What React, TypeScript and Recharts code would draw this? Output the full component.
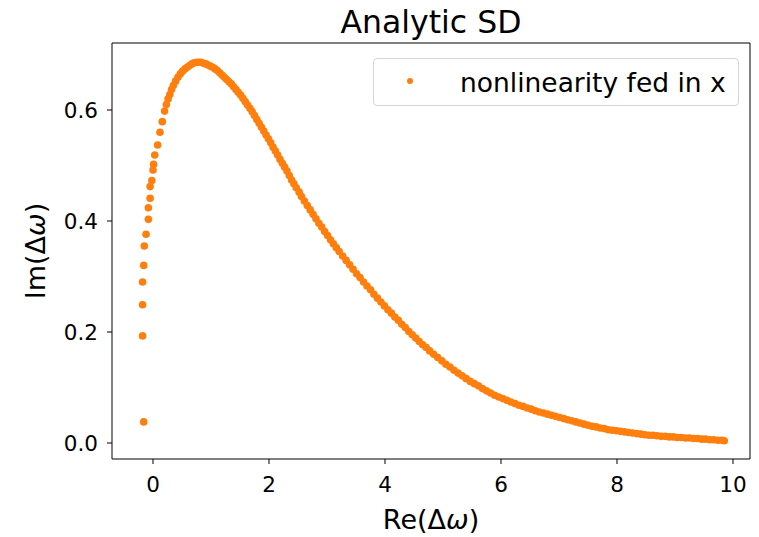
import { Legend, ReferenceLine, Scatter, ScatterChart, XAxis, YAxis } from "recharts";

// Re(Δω) and Im(Δω), point by point
const reDw = [
  -0.16, -0.18, -0.18, -0.18, -0.16, -0.15, -0.12, -0.08, -0.08, -0.05, -0.05, -0.02, 0.0, 0.01, 0.03, 0.08,
  0.12, 0.16, 0.2, 0.23, 0.26, 0.29, 0.32, 0.35, 0.39, 0.43, 0.47, 0.51, 0.55, 0.59, 0.63, 0.67, 0.71, 0.75,
  0.79, 0.83, 0.87, 0.91, 0.95, 0.99, 1.03, 1.07, 1.11, 1.15, 1.19, 1.23, 1.27, 1.31, 1.35, 1.39, 1.43, 1.47,
  1.51, 1.55, 1.59, 1.63, 1.67, 1.71, 1.75, 1.79, 1.83, 1.87, 1.91, 1.95, 1.99, 2.03, 2.07, 2.11, 2.15, 2.19,
  2.23, 2.27, 2.31, 2.35, 2.39, 2.43, 2.47, 2.52, 2.56, 2.61, 2.66, 2.71, 2.76, 2.81, 2.86, 2.91, 2.96, 3.01,
  3.06, 3.11, 3.16, 3.21, 3.27, 3.33, 3.39, 3.45, 3.51, 3.57, 3.63, 3.69, 3.75, 3.81, 3.87, 3.93, 3.99, 4.05,
  4.11, 4.17, 4.23, 4.29, 4.35, 4.41, 4.47, 4.53, 4.59, 4.65, 4.71, 4.77, 4.84, 4.91, 4.98, 5.05, 5.12, 5.19,
  5.26, 5.33, 5.4, 5.47, 5.54, 5.61, 5.68, 5.75, 5.82, 5.89, 5.96, 6.03, 6.1, 6.17, 6.24, 6.31, 6.38, 6.45,
  6.52, 6.59, 6.66, 6.73, 6.8, 6.87, 6.94, 7.01, 7.08, 7.15, 7.22, 7.29, 7.36, 7.43, 7.5, 7.57, 7.64, 7.71,
  7.78, 7.85, 7.92, 7.99, 8.06, 8.13, 8.2, 8.27, 8.34, 8.41, 8.48, 8.55, 8.62, 8.69, 8.76, 8.83, 8.9, 8.97,
  9.04, 9.11, 9.18, 9.25, 9.32, 9.39, 9.46, 9.53, 9.6, 9.67, 9.74, 9.81, 9.85,
];
const imDw = [
  0.038, 0.193, 0.249, 0.29, 0.32, 0.355, 0.376, 0.403, 0.424, 0.441, 0.462, 0.473, 0.492, 0.502, 0.519, 0.537,
  0.56, 0.579, 0.598, 0.61, 0.62, 0.628, 0.637, 0.644, 0.652, 0.659, 0.665, 0.67, 0.674, 0.677, 0.68, 0.683,
  0.685, 0.686, 0.686, 0.686, 0.684, 0.683, 0.681, 0.679, 0.677, 0.674, 0.671, 0.667, 0.663, 0.659, 0.655,
  0.651, 0.647, 0.642, 0.637, 0.632, 0.627, 0.621, 0.615, 0.609, 0.603, 0.597, 0.59, 0.583, 0.576, 0.569,
  0.562, 0.555, 0.548, 0.541, 0.533, 0.526, 0.519, 0.511, 0.504, 0.497, 0.49, 0.482, 0.474, 0.467, 0.46,
  0.452, 0.444, 0.436, 0.428, 0.42, 0.412, 0.404, 0.396, 0.389, 0.381, 0.374, 0.366, 0.359, 0.352, 0.345,
  0.337, 0.329, 0.321, 0.313, 0.305, 0.298, 0.29, 0.283, 0.276, 0.268, 0.261, 0.254, 0.247, 0.24, 0.234,
  0.227, 0.221, 0.214, 0.208, 0.201, 0.195, 0.189, 0.183, 0.177, 0.172, 0.166, 0.16, 0.154, 0.148, 0.142,
  0.137, 0.131, 0.126, 0.121, 0.116, 0.111, 0.107, 0.103, 0.098, 0.094, 0.09, 0.086, 0.083, 0.08, 0.077,
  0.074, 0.071, 0.068, 0.066, 0.063, 0.061, 0.058, 0.056, 0.054, 0.052, 0.05, 0.048, 0.046, 0.044, 0.042,
  0.04, 0.038, 0.036, 0.034, 0.032, 0.03, 0.029, 0.027, 0.026, 0.024, 0.023, 0.022, 0.021, 0.02, 0.019,
  0.018, 0.017, 0.016, 0.015, 0.014, 0.014, 0.013, 0.012, 0.012, 0.011, 0.011, 0.01, 0.01, 0.009, 0.009,
  0.008, 0.008, 0.007, 0.007, 0.006, 0.006, 0.005, 0.005, 0.004,
];
const xTicks = [0, 2, 4, 6, 8, 10];
const yTicks = [0, 0.2, 0.4, 0.6];
const seriesName = "nonlinearity fed in x";

const X_DOMAIN: [number, number] = [-0.707, 10.293];
const Y_DOMAIN: [number, number] = [-0.0288, 0.7207];
const ORANGE = "#ff7f0e";
const FONT = "'DejaVu Sans', sans-serif";

const data = reDw.map((re, i) => ({ re, im: imDw[i] }));

const Dot = (props: any) => <circle cx={props.cx} cy={props.cy} r={3.8} fill={ORANGE} />;

const renderLegend = () => (
  <div
    style={{
      boxSizing: "border-box",
      width: 366,
      height: 48,
      border: "1px solid #d5d5d5",
      borderRadius: 4,
      background: "#fff",
      display: "flex",
      alignItems: "center",
      fontFamily: FONT,
      fontSize: 26.5,
      color: "#000",
      whiteSpace: "nowrap",
    }}
  >
    <svg width={86} height={46} style={{ flex: "none" }}>
      <circle cx={36} cy={22} r={3} fill={ORANGE} />
    </svg>
    <span>{seriesName}</span>
  </div>
);

export default function App() {
  return (
    <div style={{ position: "relative", width: 751, height: 529, fontFamily: FONT }}>
      <div
        style={{
          position: "absolute",
          left: 423,
          top: -4,
          transform: "translateX(-50%)",
          fontSize: 31.5,
          whiteSpace: "nowrap",
        }}
      >
        Analytic SD
      </div>
      <ScatterChart width={751} height={529} margin={{ top: 35, right: 9, bottom: 0, left: 0 }}>
        <XAxis
          dataKey="re"
          type="number"
          domain={X_DOMAIN}
          allowDataOverflow
          ticks={xTicks}
          height={78}
          tickSize={5}
          tickMargin={13}
          stroke="#000"
          tick={{ fill: "#000", fontSize: 21.5, fontFamily: FONT }}
        />
        <YAxis
          dataKey="im"
          type="number"
          domain={Y_DOMAIN}
          allowDataOverflow
          ticks={yTicks}
          tickFormatter={(v: number) => v.toFixed(1)}
          width={104}
          tickSize={5}
          tickMargin={9}
          stroke="#000"
          tick={{ fill: "#000", fontSize: 21.5, fontFamily: FONT }}
        />
        <ReferenceLine y={Y_DOMAIN[1]} stroke="#000" strokeWidth={1} />
        <ReferenceLine x={X_DOMAIN[1]} stroke="#000" strokeWidth={1} />
        <Legend
          layout="vertical"
          align="center"
          verticalAlign="middle"
          content={renderLegend}
          wrapperStyle={{ top: 50, left: 365, width: 366, height: 48 }}
        />
        <Scatter name={seriesName} data={data} fill={ORANGE} shape={Dot} isAnimationActive={false} />
      </ScatterChart>
      <div
        style={{
          position: "absolute",
          left: 423,
          top: 496,
          transform: "translateX(-50%)",
          fontSize: 27,
          whiteSpace: "nowrap",
        }}
      >
        Re(Δ<i>ω</i>)
      </div>
      <div
        style={{
          position: "absolute",
          left: 27,
          top: 243,
          transform: "translate(-50%, -50%) rotate(-90deg)",
          fontSize: 27,
          whiteSpace: "nowrap",
        }}
      >
        Im(Δ<i>ω</i>)
      </div>
    </div>
  );
}
